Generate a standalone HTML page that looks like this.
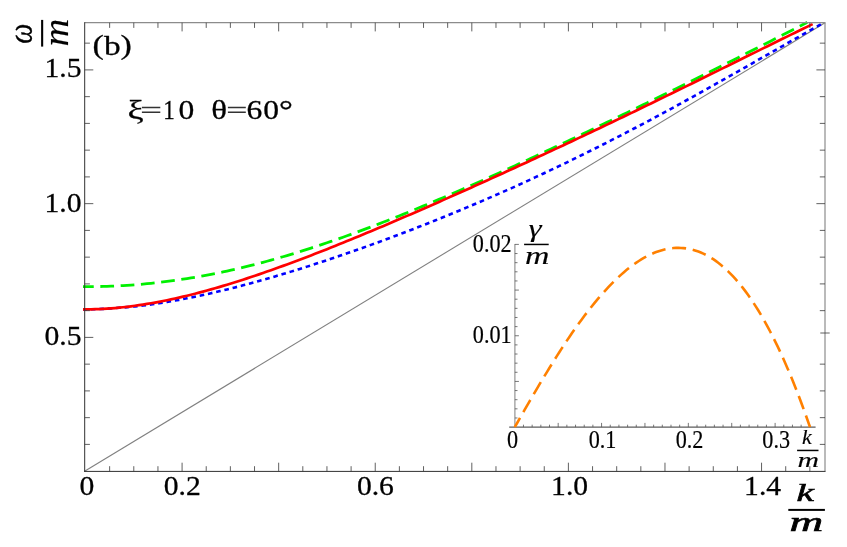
<!DOCTYPE html>
<html><head><meta charset="utf-8"><title>plot</title>
<style>html,body{margin:0;padding:0;background:#fff;}svg{display:block;}text{white-space:pre;}</style>
</head><body>
<svg width="847" height="547" viewBox="0 0 847 547">
<rect width="847" height="547" fill="#fff"/>
<g fill="none">
<line x1="84.6" y1="471.3" x2="825.0" y2="22.84" stroke="#808080" stroke-width="1.1"/>
<path d="M83.00,286.68 L87.00,286.68 L91.00,286.66 L95.00,286.61 L99.00,286.54 L103.00,286.44 L107.00,286.32 L111.00,286.17 L115.00,286.00 L119.00,285.80 L123.00,285.58 L127.00,285.34 L131.00,285.06 L135.00,284.77 L139.00,284.44 L143.00,284.10 L147.00,283.72 L151.00,283.33 L155.00,282.90 L159.00,282.45 L163.00,281.98 L167.00,281.48 L171.00,280.96 L175.00,280.41 L179.00,279.83 L183.00,279.23 L187.00,278.61 L191.00,277.96 L195.00,277.29 L199.00,276.60 L203.00,275.87 L207.00,275.13 L211.00,274.36 L215.00,273.57 L219.00,272.76 L223.00,271.92 L227.00,271.06 L231.00,270.17 L235.00,269.27 L239.00,268.34 L243.00,267.39 L247.00,266.42 L251.00,265.42 L255.00,264.41 L259.00,263.37 L263.00,262.32 L267.00,261.24 L271.00,260.14 L275.00,259.02 L279.00,257.89 L283.00,256.73 L287.00,255.55 L291.00,254.36 L295.00,253.14 L299.00,251.91 L303.00,250.66 L307.00,249.39 L311.00,248.11 L315.00,246.80 L319.00,245.48 L323.00,244.15 L327.00,242.79 L331.00,241.43 L335.00,240.04 L339.00,238.64 L343.00,237.22 L347.00,235.79 L351.00,234.35 L355.00,232.89 L359.00,231.41 L363.00,229.93 L367.00,228.43 L371.00,226.91 L375.00,225.38 L379.00,223.84 L383.00,222.29 L387.00,220.73 L391.00,219.15 L395.00,217.56 L399.00,215.96 L403.00,214.35 L407.00,212.73 L411.00,211.10 L415.00,209.46 L419.00,207.80 L423.00,206.14 L427.00,204.47 L431.00,202.79 L435.00,201.09 L439.00,199.40 L443.00,197.69 L447.00,195.97 L451.00,194.24 L455.00,192.51 L459.00,190.77 L463.00,189.02 L467.00,187.27 L471.00,185.50 L475.00,183.73 L479.00,181.95 L483.00,180.17 L487.00,178.38 L491.00,176.58 L495.00,174.78 L499.00,172.97 L503.00,171.15 L507.00,169.33 L511.00,167.51 L515.00,165.68 L519.00,163.84 L523.00,162.00 L527.00,160.15 L531.00,158.30 L535.00,156.44 L539.00,154.58 L543.00,152.72 L547.00,150.85 L551.00,148.97 L555.00,147.09 L559.00,145.21 L563.00,143.32 L567.00,141.43 L571.00,139.54 L575.00,137.64 L579.00,135.74 L583.00,133.83 L587.00,131.92 L591.00,130.01 L595.00,128.10 L599.00,126.18 L603.00,124.25 L607.00,122.33 L611.00,120.40 L615.00,118.47 L619.00,116.53 L623.00,114.59 L627.00,112.65 L631.00,110.71 L635.00,108.76 L639.00,106.81 L643.00,104.86 L647.00,102.90 L651.00,100.94 L655.00,98.98 L659.00,97.02 L663.00,95.05 L667.00,93.08 L671.00,91.11 L675.00,89.13 L679.00,87.15 L683.00,85.17 L687.00,83.18 L691.00,81.20 L695.00,79.21 L699.00,77.21 L703.00,75.22 L707.00,73.22 L711.00,71.22 L715.00,69.21 L719.00,67.21 L723.00,65.20 L727.00,63.19 L731.00,61.17 L735.00,59.15 L739.00,57.13 L743.00,55.11 L747.00,53.09 L751.00,51.06 L755.00,49.03 L759.00,46.99 L763.00,44.96 L767.00,42.92 L771.00,40.88 L775.00,38.84 L779.00,36.79 L783.00,34.74 L787.00,32.69 L791.00,30.64 L795.00,28.59 L799.00,26.53 L803.00,24.47 L807.00,22.41 L807.22,22.30" stroke="#00f000" stroke-width="2.8" stroke-dasharray="13.75 6.58" stroke-dashoffset="3.0"/>
<path d="M83.00,309.37 L87.00,309.37 L91.00,309.32 L95.00,309.22 L99.00,309.07 L103.00,308.89 L107.00,308.66 L111.00,308.40 L115.00,308.12 L119.00,307.81 L123.00,307.47 L127.00,307.12 L131.00,306.75 L135.00,306.35 L139.00,305.94 L143.00,305.49 L147.00,305.00 L151.00,304.45 L155.00,303.88 L159.00,303.27 L163.00,302.64 L167.00,301.98 L171.00,301.30 L175.00,300.59 L179.00,299.86 L183.00,299.10 L187.00,298.32 L191.00,297.52 L195.00,296.70 L199.00,295.86 L203.00,294.99 L207.00,294.11 L211.00,293.21 L215.00,292.28 L219.00,291.34 L223.00,290.38 L227.00,289.41 L231.00,288.41 L235.00,287.40 L239.00,286.37 L243.00,285.32 L247.00,284.26 L251.00,283.19 L255.00,282.09 L259.00,280.99 L263.00,279.86 L267.00,278.73 L271.00,277.58 L275.00,276.41 L279.00,275.24 L283.00,274.05 L287.00,272.84 L291.00,271.62 L295.00,270.40 L299.00,269.15 L303.00,267.90 L307.00,266.63 L311.00,265.36 L315.00,264.07 L319.00,262.76 L323.00,261.45 L327.00,260.13 L331.00,258.79 L335.00,257.45 L339.00,256.09 L343.00,254.73 L347.00,253.35 L351.00,251.96 L355.00,250.56 L359.00,249.15 L363.00,247.73 L367.00,246.31 L371.00,244.87 L375.00,243.42 L379.00,241.96 L383.00,240.49 L387.00,239.01 L391.00,237.52 L395.00,236.02 L399.00,234.52 L403.00,233.00 L407.00,231.47 L411.00,229.93 L415.00,228.39 L419.00,226.83 L423.00,225.26 L427.00,223.69 L431.00,222.10 L435.00,220.51 L439.00,218.90 L443.00,217.29 L447.00,215.66 L451.00,214.03 L455.00,212.38 L459.00,210.73 L463.00,209.07 L467.00,207.39 L471.00,205.71 L475.00,204.02 L479.00,202.32 L483.00,200.60 L487.00,198.88 L491.00,197.15 L495.00,195.40 L499.00,193.65 L503.00,191.89 L507.00,190.12 L511.00,188.33 L515.00,186.54 L519.00,184.74 L523.00,182.92 L527.00,181.10 L531.00,179.27 L535.00,177.42 L539.00,175.57 L543.00,173.70 L547.00,171.83 L551.00,169.94 L555.00,168.05 L559.00,166.14 L563.00,164.23 L567.00,162.30 L571.00,160.36 L575.00,158.42 L579.00,156.46 L583.00,154.49 L587.00,152.52 L591.00,150.53 L595.00,148.53 L599.00,146.53 L603.00,144.51 L607.00,142.48 L611.00,140.44 L615.00,138.40 L619.00,136.34 L623.00,134.28 L627.00,132.20 L631.00,130.12 L635.00,128.02 L639.00,125.92 L643.00,123.81 L647.00,121.68 L651.00,119.55 L655.00,117.42 L659.00,115.27 L663.00,113.11 L667.00,110.95 L671.00,108.78 L675.00,106.60 L679.00,104.41 L683.00,102.21 L687.00,100.01 L691.00,97.80 L695.00,95.59 L699.00,93.37 L703.00,91.14 L707.00,88.90 L711.00,86.66 L715.00,84.42 L719.00,82.17 L723.00,79.91 L727.00,77.65 L731.00,75.39 L735.00,73.12 L739.00,70.85 L743.00,68.58 L747.00,66.30 L751.00,64.02 L755.00,61.74 L759.00,59.46 L763.00,57.18 L767.00,54.89 L771.00,52.61 L775.00,50.33 L779.00,48.04 L783.00,45.76 L787.00,43.49 L791.00,41.21 L795.00,38.94 L799.00,36.67 L803.00,34.41 L807.00,32.15 L811.00,29.89 L815.00,27.64 L819.00,25.40 L823.00,23.17 L823.20,23.06" stroke="#0000ff" stroke-width="2.6" stroke-dasharray="4.6 3.85" stroke-dashoffset="0.6"/>
<path d="M83.00,309.37 L87.00,309.37 L91.00,309.32 L95.00,309.22 L99.00,309.07 L103.00,308.88 L107.00,308.64 L111.00,308.35 L115.00,308.03 L119.00,307.65 L123.00,307.24 L127.00,306.79 L131.00,306.30 L135.00,305.76 L139.00,305.19 L143.00,304.59 L147.00,303.94 L151.00,303.26 L155.00,302.55 L159.00,301.80 L163.00,301.02 L167.00,300.21 L171.00,299.37 L175.00,298.49 L179.00,297.59 L183.00,296.66 L187.00,295.70 L191.00,294.71 L195.00,293.69 L199.00,292.65 L203.00,291.59 L207.00,290.50 L211.00,289.38 L215.00,288.24 L219.00,287.08 L223.00,285.90 L227.00,284.70 L231.00,283.47 L235.00,282.22 L239.00,280.96 L243.00,279.67 L247.00,278.37 L251.00,277.05 L255.00,275.71 L259.00,274.36 L263.00,272.98 L267.00,271.59 L271.00,270.19 L275.00,268.77 L279.00,267.34 L283.00,265.89 L287.00,264.43 L291.00,262.95 L295.00,261.47 L299.00,259.96 L303.00,258.45 L307.00,256.93 L311.00,255.39 L315.00,253.84 L319.00,252.29 L323.00,250.72 L327.00,249.14 L331.00,247.55 L335.00,245.95 L339.00,244.35 L343.00,242.73 L347.00,241.11 L351.00,239.48 L355.00,237.84 L359.00,236.19 L363.00,234.53 L367.00,232.87 L371.00,231.20 L375.00,229.52 L379.00,227.84 L383.00,226.15 L387.00,224.45 L391.00,222.75 L395.00,221.04 L399.00,219.33 L403.00,217.61 L407.00,215.88 L411.00,214.15 L415.00,212.42 L419.00,210.68 L423.00,208.93 L427.00,207.18 L431.00,205.43 L435.00,203.67 L439.00,201.91 L443.00,200.14 L447.00,198.37 L451.00,196.59 L455.00,194.81 L459.00,193.03 L463.00,191.24 L467.00,189.45 L471.00,187.65 L475.00,185.85 L479.00,184.05 L483.00,182.24 L487.00,180.43 L491.00,178.62 L495.00,176.80 L499.00,174.98 L503.00,173.16 L507.00,171.33 L511.00,169.50 L515.00,167.67 L519.00,165.83 L523.00,163.99 L527.00,162.15 L531.00,160.30 L535.00,158.45 L539.00,156.60 L543.00,154.74 L547.00,152.88 L551.00,151.02 L555.00,149.15 L559.00,147.28 L563.00,145.41 L567.00,143.54 L571.00,141.66 L575.00,139.78 L579.00,137.89 L583.00,136.00 L587.00,134.11 L591.00,132.22 L595.00,130.32 L599.00,128.42 L603.00,126.52 L607.00,124.61 L611.00,122.70 L615.00,120.79 L619.00,118.87 L623.00,116.96 L627.00,115.03 L631.00,113.11 L635.00,111.18 L639.00,109.25 L643.00,107.32 L647.00,105.38 L651.00,103.44 L655.00,101.50 L659.00,99.56 L663.00,97.61 L667.00,95.66 L671.00,93.71 L675.00,91.76 L679.00,89.80 L683.00,87.84 L687.00,85.88 L691.00,83.92 L695.00,81.96 L699.00,79.99 L703.00,78.02 L707.00,76.05 L711.00,74.08 L715.00,72.11 L719.00,70.14 L723.00,68.16 L727.00,66.19 L731.00,64.21 L735.00,62.24 L739.00,60.26 L743.00,58.28 L747.00,56.31 L751.00,54.33 L755.00,52.35 L759.00,50.38 L763.00,48.40 L767.00,46.43 L771.00,44.46 L775.00,42.49 L779.00,40.52 L783.00,38.56 L787.00,36.60 L791.00,34.64 L795.00,32.68 L799.00,30.73 L803.00,28.79 L807.00,26.84 L811.00,24.90 L812.66,24.10" stroke="#ff0000" stroke-width="2.7"/>
</g>
<g fill="none">
<line x1="84.7" y1="22.7" x2="825.5" y2="22.7" stroke="#8c8c8c" stroke-width="1.2"/>
<line x1="825.0" y1="22.7" x2="825.0" y2="471.4" stroke="#8c8c8c" stroke-width="1.2"/>
<line x1="84.7" y1="22.2" x2="84.7" y2="471.9" stroke="#303030" stroke-width="1.0"/>
<line x1="84.2" y1="471.4" x2="825.5" y2="471.4" stroke="#303030" stroke-width="1.0"/>
<path d="M109.64,471.4 v-5.2 M109.64,22.7 v5.2 M133.79,471.4 v-5.2 M133.79,22.7 v5.2 M157.94,471.4 v-5.2 M157.94,22.7 v5.2 M182.08,471.4 v-8.7 M182.08,22.7 v8.7 M206.22,471.4 v-5.2 M206.22,22.7 v5.2 M230.37,471.4 v-5.2 M230.37,22.7 v5.2 M254.52,471.4 v-5.2 M254.52,22.7 v5.2 M278.66,471.4 v-8.7 M278.66,22.7 v8.7 M302.81,471.4 v-5.2 M302.81,22.7 v5.2 M326.95,471.4 v-5.2 M326.95,22.7 v5.2 M351.10,471.4 v-5.2 M351.10,22.7 v5.2 M375.24,471.4 v-8.7 M375.24,22.7 v8.7 M399.38,471.4 v-5.2 M399.38,22.7 v5.2 M423.53,471.4 v-5.2 M423.53,22.7 v5.2 M447.67,471.4 v-5.2 M447.67,22.7 v5.2 M471.82,471.4 v-8.7 M471.82,22.7 v8.7 M495.97,471.4 v-5.2 M495.97,22.7 v5.2 M520.11,471.4 v-5.2 M520.11,22.7 v5.2 M544.25,471.4 v-5.2 M544.25,22.7 v5.2 M568.40,471.4 v-8.7 M568.40,22.7 v8.7 M592.55,471.4 v-5.2 M592.55,22.7 v5.2 M616.69,471.4 v-5.2 M616.69,22.7 v5.2 M640.84,471.4 v-5.2 M640.84,22.7 v5.2 M664.98,471.4 v-8.7 M664.98,22.7 v8.7 M689.12,471.4 v-5.2 M689.12,22.7 v5.2 M713.27,471.4 v-5.2 M713.27,22.7 v5.2 M737.41,471.4 v-5.2 M737.41,22.7 v5.2 M761.56,471.4 v-8.7 M761.56,22.7 v8.7 M785.71,471.4 v-5.2 M785.71,22.7 v5.2 M809.85,471.4 v-5.2 M809.85,22.7 v5.2 M84.7,444.40 h5.2 M825.0,444.40 h-5.2 M84.7,417.65 h5.2 M825.0,417.65 h-5.2 M84.7,390.90 h5.2 M825.0,390.90 h-5.2 M84.7,364.15 h5.2 M825.0,364.15 h-5.2 M84.7,337.40 h8.6 M84.7,310.65 h5.2 M825.0,310.65 h-5.2 M84.7,283.90 h5.2 M825.0,283.90 h-5.2 M84.7,257.15 h5.2 M825.0,257.15 h-5.2 M84.7,230.40 h5.2 M825.0,230.40 h-5.2 M84.7,203.65 h8.6 M825.0,203.65 h-8.6 M84.7,176.90 h5.2 M825.0,176.90 h-5.2 M84.7,150.15 h5.2 M825.0,150.15 h-5.2 M84.7,123.40 h5.2 M825.0,123.40 h-5.2 M84.7,96.65 h5.2 M825.0,96.65 h-5.2 M84.7,69.90 h8.6 M825.0,69.90 h-8.6 M84.7,43.15 h5.2 M825.0,43.15 h-5.2 M820.3,333.0 H829.7" stroke="#383838" stroke-width="0.8"/>
</g>
<g fill="none">
<line x1="509.2" y1="427.1" x2="815.6" y2="427.1" stroke="#5c5c5c" stroke-width="1.1"/>
<line x1="514.9" y1="244.0" x2="514.9" y2="427.1" stroke="#8a8a8a" stroke-width="1.1"/>
<path d="M523.48,427.1 v-2.4 M532.15,427.1 v-2.4 M540.83,427.1 v-2.4 M549.51,427.1 v-2.4 M558.18,427.1 v-4.2 M566.86,427.1 v-2.4 M575.54,427.1 v-2.4 M584.22,427.1 v-2.4 M592.89,427.1 v-2.4 M601.57,427.1 v-4.2 M610.25,427.1 v-2.4 M618.92,427.1 v-2.4 M627.60,427.1 v-2.4 M636.28,427.1 v-2.4 M644.95,427.1 v-4.2 M653.63,427.1 v-2.4 M662.31,427.1 v-2.4 M670.99,427.1 v-2.4 M679.66,427.1 v-2.4 M688.34,427.1 v-4.2 M697.02,427.1 v-2.4 M705.69,427.1 v-2.4 M714.37,427.1 v-2.4 M723.05,427.1 v-2.4 M731.72,427.1 v-4.2 M740.40,427.1 v-2.4 M749.08,427.1 v-2.4 M757.76,427.1 v-2.4 M766.43,427.1 v-2.4 M775.11,427.1 v-4.2 M783.79,427.1 v-2.4 M792.46,427.1 v-2.4 M801.14,427.1 v-2.4 M809.82,427.1 v-2.4 M514.9,417.97 h2.6 M514.9,408.83 h2.6 M514.9,399.70 h2.6 M514.9,390.56 h2.6 M514.9,381.43 h4.0 M514.9,372.29 h2.6 M514.9,363.16 h2.6 M514.9,354.02 h2.6 M514.9,344.88 h2.6 M514.9,335.75 h4.0 M514.9,326.62 h2.6 M514.9,317.48 h2.6 M514.9,308.35 h2.6 M514.9,299.21 h2.6 M514.9,290.08 h4.0 M514.9,280.94 h2.6 M514.9,271.81 h2.6 M514.9,262.67 h2.6 M514.9,253.54 h2.6 M514.9,244.40 h4.0" stroke="#555555" stroke-width="0.8"/>
<path d="M514.80,427.10 L517.28,422.74 L519.76,418.38 L522.24,414.03 L524.72,409.70 L527.20,405.38 L529.68,401.09 L532.16,396.82 L534.64,392.57 L537.13,388.36 L539.61,384.17 L542.09,380.01 L544.57,375.89 L547.05,371.81 L549.53,367.76 L552.01,363.75 L554.49,359.79 L556.97,355.86 L559.45,351.99 L561.93,348.16 L564.41,344.38 L566.89,340.64 L569.37,336.97 L571.85,333.34 L574.33,329.77 L576.82,326.26 L579.30,322.80 L581.78,319.40 L584.26,316.07 L586.74,312.80 L589.22,309.59 L591.70,306.45 L594.18,303.37 L596.66,300.37 L599.14,297.43 L601.62,294.56 L604.10,291.77 L606.58,289.05 L609.06,286.40 L611.54,283.83 L614.02,281.34 L616.50,278.93 L618.99,276.60 L621.47,274.35 L623.95,272.18 L626.43,270.10 L628.91,268.10 L631.39,266.19 L633.87,264.37 L636.35,262.63 L638.83,260.99 L641.31,259.43 L643.79,257.97 L646.27,256.60 L648.75,255.33 L651.23,254.15 L653.71,253.07 L656.19,252.09 L658.67,251.21 L661.16,250.43 L663.64,249.75 L666.12,249.18 L668.60,248.70 L671.08,248.33 L673.56,248.07 L676.04,247.92 L678.52,247.87 L681.00,247.94 L683.48,248.11 L685.96,248.40 L688.44,248.79 L690.92,249.30 L693.40,249.93 L695.88,250.67 L698.36,251.53 L700.85,252.51 L703.33,253.60 L705.81,254.82 L708.29,256.15 L710.77,257.61 L713.25,259.19 L715.73,260.90 L718.21,262.73 L720.69,264.68 L723.17,266.77 L725.65,268.98 L728.13,271.32 L730.61,273.79 L733.09,276.39 L735.57,279.12 L738.05,281.99 L740.53,284.98 L743.02,288.12 L745.50,291.39 L747.98,294.79 L750.46,298.34 L752.94,302.02 L755.42,305.84 L757.90,309.80 L760.38,313.91 L762.86,318.15 L765.34,322.54 L767.82,327.08 L770.30,331.76 L772.78,336.58 L775.26,341.55 L777.74,346.67 L780.22,351.94 L782.70,357.36 L785.19,362.93 L787.67,368.65 L790.15,374.52 L792.63,380.55 L795.11,386.73 L797.59,393.06 L800.07,399.56 L802.55,406.20 L805.03,413.01 L807.51,419.98 L809.99,427.10" stroke="#ff8000" stroke-width="2.6" stroke-dasharray="13.95 6.75" stroke-dashoffset="3.4"/>
</g>
<g style="opacity:0.999">
<text transform="translate(87.0,495.2) scale(1.05,1.0)" font-family="'Liberation Serif', serif" font-size="28.2" text-anchor="middle" fill="#000" stroke="#000" stroke-width="0.3">0</text>
<text transform="translate(182.3,495.2) scale(1.05,1.0)" font-family="'Liberation Serif', serif" font-size="28.2" text-anchor="middle" fill="#000" stroke="#000" stroke-width="0.3">0.2</text>
<text transform="translate(375.4,495.2) scale(1.05,1.0)" font-family="'Liberation Serif', serif" font-size="28.2" text-anchor="middle" fill="#000" stroke="#000" stroke-width="0.3">0.6</text>
<text transform="translate(569.6,495.2) scale(1.05,1.0)" font-family="'Liberation Serif', serif" font-size="28.2" text-anchor="middle" fill="#000" stroke="#000" stroke-width="0.3">1.0</text>
<text transform="translate(762.6,495.2) scale(1.05,1.0)" font-family="'Liberation Serif', serif" font-size="28.2" text-anchor="middle" fill="#000" stroke="#000" stroke-width="0.3">1.4</text>
<text transform="translate(81.5,345.0) scale(1.05,1.0)" font-family="'Liberation Serif', serif" font-size="28.2" text-anchor="end" fill="#000" stroke="#000" stroke-width="0.3">0.5</text>
<text transform="translate(81.5,212.0) scale(1.05,1.0)" font-family="'Liberation Serif', serif" font-size="28.2" text-anchor="end" fill="#000" stroke="#000" stroke-width="0.3">1.0</text>
<text transform="translate(81.5,77.4) scale(1.05,1.0)" font-family="'Liberation Serif', serif" font-size="28.2" text-anchor="end" fill="#000" stroke="#000" stroke-width="0.3">1.5</text>
<text transform="translate(92.6,54.2) scale(1.19,0.93)" font-family="'Liberation Serif', serif" font-size="28.5" text-anchor="start" fill="#000" stroke="#000" stroke-width="0.3">(</text>
<text transform="translate(103.893695,54.5) scale(1.19,1.0)" font-family="'Liberation Serif', serif" font-size="28.0" text-anchor="start" fill="#000" stroke="#000" stroke-width="0.3">b</text>
<text transform="translate(120.57987499999999,54.2) scale(1.19,0.93)" font-family="'Liberation Serif', serif" font-size="28.5" text-anchor="start" fill="#000" stroke="#000" stroke-width="0.3">)</text>
<text transform="translate(127.6,119.0) scale(1.28,0.97)" font-family="'Liberation Serif', serif" font-size="28.2" text-anchor="start" fill="#000" stroke="#000" stroke-width="0.3">ξ</text>
<path d="M141.9,107.5 H160.3 M141.9,112.3 H160.3" stroke="#333" stroke-width="1.4" fill="none"/>
<text transform="translate(163.3,119.3) scale(0.82,1.0)" font-family="'Liberation Serif', serif" font-size="28.2" text-anchor="start" fill="#000" stroke="#000" stroke-width="0.3">1</text>
<text transform="translate(178.5,119.3) scale(1.12,1.0)" font-family="'Liberation Serif', serif" font-size="28.2" text-anchor="start" fill="#000" stroke="#000" stroke-width="0.3">0</text>
<text transform="translate(211.3,119.3) scale(1.17,0.98)" font-family="'Liberation Serif', serif" font-size="28.2" text-anchor="start" fill="#000" stroke="#000" stroke-width="0.3">θ</text>
<path d="M227.9,107.5 H245.8 M227.9,112.3 H245.8" stroke="#333" stroke-width="1.4" fill="none"/>
<text transform="translate(246.6,119.3) scale(1.12,1.0)" font-family="'Liberation Serif', serif" font-size="28.2" text-anchor="start" fill="#000" stroke="#000" stroke-width="0.3">6</text>
<text transform="translate(263.3,119.3) scale(1.12,1.0)" font-family="'Liberation Serif', serif" font-size="28.2" text-anchor="start" fill="#000" stroke="#000" stroke-width="0.3">0</text>
<text transform="translate(279.0,119.3) scale(1.23,1.0)" font-family="'Liberation Serif', serif" font-size="28.2" text-anchor="start" fill="#000" stroke="#000" stroke-width="0.3">°</text>
<text transform="translate(32.3,43.7) rotate(-90) scale(0.89,1.07)" font-family="'Liberation Serif', serif" font-size="32" text-anchor="start" fill="#000" font-style="italic" stroke="#000" stroke-width="0.3">ω</text>
<rect x="41.1" y="19.9" width="2.1" height="26.7" fill="#000"/>
<text transform="translate(68.0,46.6) rotate(-90) scale(1.2,1.09)" font-family="'Liberation Serif', serif" font-size="32" text-anchor="start" fill="#000" font-style="italic" stroke="#000" stroke-width="0.15">m</text>
<text transform="translate(796.5,501.3) scale(1.6,1.0)" font-family="'Liberation Serif', serif" font-size="24.5" text-anchor="start" fill="#000" font-style="italic" stroke="#000" stroke-width="0.6">k</text>
<rect x="788.3" y="508.9" width="36.6" height="2.0" fill="#000"/>
<text transform="translate(789.6,531.3) scale(1.7,1.0)" font-family="'Liberation Serif', serif" font-size="27.5" text-anchor="start" fill="#000" font-style="italic" stroke="#000" stroke-width="0.6">m</text>
<text transform="translate(511.6,251.7) scale(0.88,1.0)" font-family="'Liberation Serif', serif" font-size="25.2" text-anchor="end" fill="#000" stroke="#000" stroke-width="0.2">0.02</text>
<text transform="translate(511.6,343.0) scale(0.88,1.0)" font-family="'Liberation Serif', serif" font-size="25.2" text-anchor="end" fill="#000" stroke="#000" stroke-width="0.2">0.01</text>
<text transform="translate(512.5,447.7) scale(0.88,1.0)" font-family="'Liberation Serif', serif" font-size="25.2" text-anchor="middle" fill="#000" stroke="#000" stroke-width="0.2">0</text>
<text transform="translate(602.5,447.7) scale(0.88,1.0)" font-family="'Liberation Serif', serif" font-size="25.2" text-anchor="middle" fill="#000" stroke="#000" stroke-width="0.2">0.1</text>
<text transform="translate(689.5,447.7) scale(0.88,1.0)" font-family="'Liberation Serif', serif" font-size="25.2" text-anchor="middle" fill="#000" stroke="#000" stroke-width="0.2">0.2</text>
<text transform="translate(776.2,447.7) scale(0.88,1.0)" font-family="'Liberation Serif', serif" font-size="25.2" text-anchor="middle" fill="#000" stroke="#000" stroke-width="0.2">0.3</text>
<text transform="translate(528.6,236.5) scale(1.36,1.0)" font-family="'Liberation Serif', serif" font-size="24.5" text-anchor="start" fill="#000" font-style="italic" stroke="#000" stroke-width="0.1">γ</text>
<rect x="524.1" y="243.7" width="24.6" height="1.5" fill="#000"/>
<text transform="translate(525.0,263.8) scale(1.38,1.0)" font-family="'Liberation Serif', serif" font-size="24.5" text-anchor="start" fill="#000" font-style="italic" stroke="#000" stroke-width="0.15">m</text>
<text transform="translate(802.1,443.8) scale(1.1,1.0)" font-family="'Liberation Serif', serif" font-size="20" text-anchor="start" fill="#000" font-style="italic" stroke="#000" stroke-width="0.15">k</text>
<rect x="797.1" y="449.7" width="21.4" height="1.5" fill="#000"/>
<text transform="translate(797.5,467.0) scale(1.42,1.0)" font-family="'Liberation Serif', serif" font-size="21" text-anchor="start" fill="#000" font-style="italic" stroke="#000" stroke-width="0.15">m</text>
</g>
</svg>
</body></html>
